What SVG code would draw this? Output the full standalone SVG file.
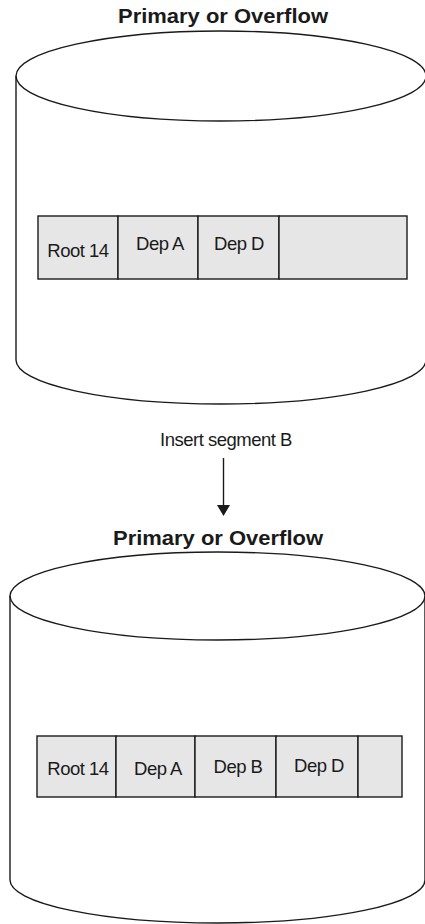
<svg xmlns="http://www.w3.org/2000/svg" width="425" height="924" viewBox="0 0 425 924">
<style>
.cyl{fill:none;stroke:#1a1a1a;stroke-width:1.4}
.cell{fill:#e6e6e6;stroke:#1a1a1a;stroke-width:1.4}
.title{font-family:"Liberation Sans",Arial,sans-serif;font-weight:bold;font-size:20px;fill:#1a1a1a;text-anchor:middle}
.lbl{font-family:"Liberation Sans",Arial,sans-serif;font-size:18.5px;fill:#1a1a1a;text-anchor:middle;letter-spacing:-0.5px}
.conn{stroke:#1a1a1a;stroke-width:1.4;fill:none}
</style>
<rect width="425" height="924" fill="#fff"/>
<g id="cylinder1">
<text class="title" x="223" y="23" textLength="210" lengthAdjust="spacingAndGlyphs">Primary or Overflow</text>
<ellipse class="cyl" cx="221" cy="76" rx="205" ry="45"/>
<path class="cyl" d="M16,76 L16,360 A205,44 0 0 0 426,360 L426,76"/>
</g>
<g id="row1">
<rect class="cell" x="38" y="216" width="80" height="63"/>
<rect class="cell" x="118" y="216" width="80" height="63"/>
<rect class="cell" x="198" y="216" width="81" height="63"/>
<rect class="cell" x="279" y="216" width="128" height="63"/>
<text class="lbl" x="78" y="257">Root 14</text>
<text class="lbl" x="160" y="250">Dep A</text>
<text class="lbl" x="239" y="250">Dep D</text>
</g>
<g id="connectors">
<line class="conn" x1="223.5" y1="458" x2="223.5" y2="506"/>
<polygon points="217,505 230,505 223.5,516" fill="#1a1a1a"/>
<text class="lbl" x="226" y="446">Insert segment B</text>
</g>
<g id="cylinder2">
<text class="title" x="218" y="545" textLength="210" lengthAdjust="spacingAndGlyphs">Primary or Overflow</text>
<ellipse class="cyl" cx="217.5" cy="596" rx="207.5" ry="44"/>
<path class="cyl" d="M10,596 L10,880 A207.5,43 0 0 0 425,880 L425,596"/>
</g>
<g id="row2">
<rect class="cell" x="37" y="736" width="79" height="61"/>
<rect class="cell" x="116" y="736" width="79" height="61"/>
<rect class="cell" x="195" y="736" width="81" height="61"/>
<rect class="cell" x="276" y="736" width="82" height="61"/>
<rect class="cell" x="358" y="736" width="44" height="61"/>
<text class="lbl" x="78" y="775">Root 14</text>
<text class="lbl" x="158" y="775">Dep A</text>
<text class="lbl" x="238" y="773">Dep B</text>
<text class="lbl" x="319" y="772">Dep D</text>
</g>
</svg>
